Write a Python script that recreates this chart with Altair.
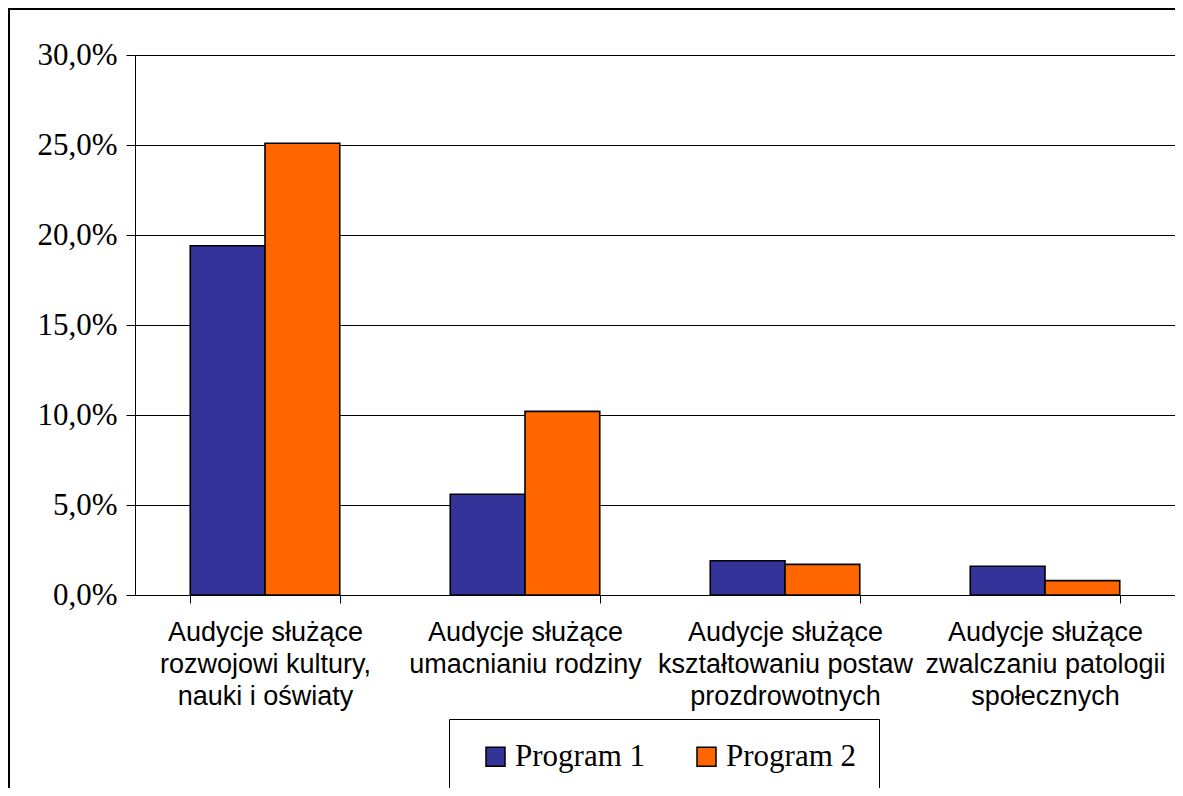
import altair as alt
import pandas as pd

categories = [
    "Audycje służące\nrozwojowi kultury,\nnauki i oświaty",
    "Audycje służące\numacnianiu rodziny",
    "Audycje służące\nkształtowaniu postaw\nprozdrowotnych",
    "Audycje służące\nzwalczaniu patologii\nspołecznych",
]
programs = ["Program 1", "Program 2"]
program1 = [19.4, 5.6, 1.9, 1.6]
program2 = [25.1, 10.2, 1.7, 0.8]
y_ticks = [0, 5, 10, 15, 20, 25, 30]
colors = ["#333399", "#FF6600"]

rows = []
for i, c in enumerate(categories):
    rows.append({"cat": c, "program": programs[0], "value": program1[i]})
    rows.append({"cat": c, "program": programs[1], "value": program2[i]})
df = pd.DataFrame(rows)

bars = alt.Chart(df).mark_bar(stroke="black", strokeWidth=1.6).encode(
    x=alt.X(
        "cat:N", sort=categories, title=None,
        scale=alt.Scale(paddingInner=0.425, paddingOuter=0.2125),
        axis=alt.Axis(
            labelExpr="split(datum.label, '\\n')", tickBand="extent", grid=False,
            tickSize=8, labelPadding=16, labelFont="Liberation Sans", labelFontSize=27,
            labelLineHeight=32, labelColor="black", labelLimit=400, labelAngle=0,
            domainColor="black", tickColor="black", domainWidth=1, tickWidth=1,
        ),
    ),
    xOffset=alt.XOffset("program:N", sort=programs,
                        scale=alt.Scale(paddingInner=0, paddingOuter=0)),
    y=alt.Y(
        "value:Q", title=None, scale=alt.Scale(domain=[0, 30]),
        axis=alt.Axis(
            values=y_ticks,
            labelExpr="replace(format(datum.value, '.1f'), '.', ',') + '%'",
            tickSize=9, labelPadding=9, labelFont="Liberation Serif", labelFontSize=31,
            labelColor="black", domainColor="black", tickColor="black",
            gridColor="black", gridWidth=1, grid=True,
        ),
    ),
    color=alt.Color(
        "program:N", scale=alt.Scale(domain=programs, range=colors),
        legend=alt.Legend(
            title=None, orient="none", legendX=314, legendY=664, direction="horizontal",
            strokeColor="black", fillColor="white", padding=22,
            symbolType="square", symbolSize=361, symbolStrokeColor="black",
            symbolStrokeWidth=1.5, symbolOpacity=1, symbolOffset=9,
            labelFont="Liberation Serif", labelFontSize=31, labelColor="black",
            labelOffset=4, labelLimit=400,
        ),
    ),
)

frame_data = pd.DataFrame({"a": [0]})
frame_left = alt.Chart(frame_data).mark_rule(color="black", strokeWidth=2, clip=False).encode(
    x=alt.value(-126), y=alt.value(-47), y2=alt.value(900)
)
frame_top = alt.Chart(frame_data).mark_rule(color="black", strokeWidth=2, clip=False).encode(
    x=alt.value(-127), x2=alt.value(1300), y=alt.value(-46)
)

chart = alt.layer(bars, frame_left, frame_top).properties(
    width=1040, height=540, autosize="none",
    padding={"left": 127, "top": 47, "right": 0, "bottom": 193},
).configure_view(strokeWidth=0).configure_legend(columnPadding=36, strokeWidth=1)

chart.save("out.html", embed_options={"renderer": "svg", "actions": False})
